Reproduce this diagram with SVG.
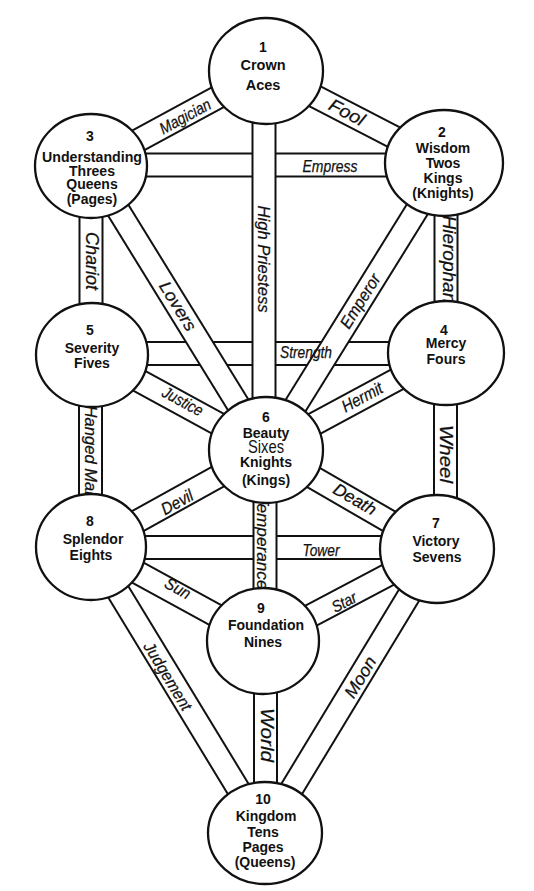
<svg xmlns="http://www.w3.org/2000/svg" width="534" height="891" viewBox="0 0 534 891">
<style>
.bo{stroke:#111;stroke-width:25;fill:none}
.bi{stroke:#fff;stroke-width:21;fill:none}
.lbl{font-family:"Liberation Sans",Arial,sans-serif;font-style:italic;fill:#111;stroke:#111;stroke-width:0.25;text-anchor:middle}
.node ellipse{fill:#fff;stroke:#111;stroke-width:2.3}
.node text{font-family:"Liberation Sans",Arial,sans-serif;font-weight:bold;font-size:14px;fill:#111;text-anchor:middle}
.node text.big{font-weight:normal;font-size:19px}
</style>
<rect width="534" height="891" fill="#fff"/>
<g id="connectors">
<g id="p-empress"><line class="bo" x1="91" y1="165" x2="444" y2="165"/><line class="bi" x1="91" y1="165" x2="444" y2="165"/></g>
<g id="p-strength"><line class="bo" x1="92" y1="353.5" x2="446" y2="353.5"/><line class="bi" x1="92" y1="353.5" x2="446" y2="353.5"/></g>
<g id="p-tower"><line class="bo" x1="91" y1="547.5" x2="437" y2="547.5"/><line class="bi" x1="91" y1="547.5" x2="437" y2="547.5"/></g>
<g id="p-fool"><line class="bo" x1="266" y1="71" x2="444" y2="163"/><line class="bi" x1="266" y1="71" x2="444" y2="163"/></g>
<g id="p-magician"><line class="bo" x1="266" y1="71" x2="91" y2="166"/><line class="bi" x1="266" y1="71" x2="91" y2="166"/></g>
<g id="p-highpriestess"><line class="bo" x1="264" y1="71" x2="264" y2="450"/><line class="bi" x1="264" y1="71" x2="264" y2="450"/></g>
<g id="p-hierophant"><line class="bo" x1="446" y1="163" x2="446" y2="353"/><line class="bi" x1="446" y1="163" x2="446" y2="353"/></g>
<g id="p-emperor"><line class="bo" x1="446" y1="163" x2="268" y2="450"/><line class="bi" x1="446" y1="163" x2="268" y2="450"/></g>
<g id="p-lovers"><line class="bo" x1="91" y1="166" x2="266" y2="450"/><line class="bi" x1="91" y1="166" x2="266" y2="450"/></g>
<g id="p-chariot"><line class="bo" x1="91" y1="166" x2="91" y2="355"/><line class="bi" x1="91" y1="166" x2="91" y2="355"/></g>
<g id="p-hermit"><line class="bo" x1="446" y1="353" x2="266" y2="450"/><line class="bi" x1="446" y1="353" x2="266" y2="450"/></g>
<g id="p-justice"><line class="bo" x1="92" y1="355" x2="266" y2="450"/><line class="bi" x1="92" y1="355" x2="266" y2="450"/></g>
<g id="p-wheel"><line class="bo" x1="445.5" y1="353" x2="445.5" y2="549"/><line class="bi" x1="445.5" y1="353" x2="445.5" y2="549"/></g>
<g id="p-hangedman"><line class="bo" x1="90.5" y1="355" x2="90.5" y2="547"/><line class="bi" x1="90.5" y1="355" x2="90.5" y2="547"/></g>
<g id="p-death"><line class="bo" x1="266" y1="450" x2="437" y2="549"/><line class="bi" x1="266" y1="450" x2="437" y2="549"/></g>
<g id="p-devil"><line class="bo" x1="266" y1="450" x2="91" y2="547"/><line class="bi" x1="266" y1="450" x2="91" y2="547"/></g>
<g id="p-temperance"><line class="bo" x1="265" y1="450" x2="265" y2="641"/><line class="bi" x1="265" y1="450" x2="265" y2="641"/></g>
<g id="p-sun"><line class="bo" x1="91" y1="547" x2="263" y2="641"/><line class="bi" x1="91" y1="547" x2="263" y2="641"/></g>
<g id="p-star"><line class="bo" x1="437" y1="549" x2="263" y2="641"/><line class="bi" x1="437" y1="549" x2="263" y2="641"/></g>
<g id="p-judgement"><line class="bo" x1="91" y1="547" x2="265" y2="833"/><line class="bi" x1="91" y1="547" x2="265" y2="833"/></g>
<g id="p-moon"><line class="bo" x1="437" y1="549" x2="265" y2="833"/><line class="bi" x1="437" y1="549" x2="265" y2="833"/></g>
<g id="p-world"><line class="bo" x1="265.5" y1="641" x2="265.5" y2="833"/><line class="bi" x1="265.5" y1="641" x2="265.5" y2="833"/></g>
</g>
<g id="labels">
<text class="lbl" transform="translate(185,116) rotate(-28.5)" y="6" font-size="16.5" textLength="56" lengthAdjust="spacingAndGlyphs">Magician</text>
<text class="lbl" transform="translate(347,112) rotate(27.3)" y="6.5" font-size="18" textLength="38" lengthAdjust="spacingAndGlyphs">Fool</text>
<text class="lbl" transform="translate(330,166)" y="6" font-size="17" textLength="55" lengthAdjust="spacingAndGlyphs">Empress</text>
<text class="lbl" transform="translate(264,259) rotate(90)" y="6" font-size="17" textLength="107" lengthAdjust="spacingAndGlyphs">High Priestess</text>
<text class="lbl" transform="translate(92,261) rotate(90)" y="6.5" font-size="18" textLength="58" lengthAdjust="spacingAndGlyphs">Chariot</text>
<text class="lbl" transform="translate(178,306) rotate(58.4)" y="6" font-size="17" textLength="55" lengthAdjust="spacingAndGlyphs">Lovers</text>
<text class="lbl" transform="translate(360,301) rotate(-58.2)" y="6" font-size="17" textLength="61" lengthAdjust="spacingAndGlyphs">Emperor</text>
<text class="lbl" transform="translate(449,262) rotate(90)" y="6.5" font-size="18" textLength="93" lengthAdjust="spacingAndGlyphs">Hierophant</text>
<text class="lbl" transform="translate(306,352)" y="5.7" font-size="16" textLength="52" lengthAdjust="spacingAndGlyphs">Strength</text>
<text class="lbl" transform="translate(362,397) rotate(-28.3)" y="6" font-size="17" textLength="44" lengthAdjust="spacingAndGlyphs">Hermit</text>
<text class="lbl" transform="translate(183,401) rotate(28.6)" y="6" font-size="16.5" textLength="44" lengthAdjust="spacingAndGlyphs">Justice</text>
<text class="lbl" transform="translate(447,454) rotate(90)" y="6.8" font-size="19" textLength="58" lengthAdjust="spacingAndGlyphs">Wheel</text>
<text class="lbl" transform="translate(91,453) rotate(90)" y="6" font-size="17" textLength="95" lengthAdjust="spacingAndGlyphs">Hanged Man</text>
<text class="lbl" transform="translate(355,499) rotate(30.1)" y="6" font-size="17" textLength="47" lengthAdjust="spacingAndGlyphs">Death</text>
<text class="lbl" transform="translate(177,502) rotate(-29)" y="6" font-size="17" textLength="34" lengthAdjust="spacingAndGlyphs">Devil</text>
<text class="lbl" transform="translate(263,542) rotate(90)" y="6" font-size="17" textLength="95" lengthAdjust="spacingAndGlyphs">Temperance</text>
<text class="lbl" transform="translate(321,550)" y="6" font-size="16.5" textLength="37" lengthAdjust="spacingAndGlyphs">Tower</text>
<text class="lbl" transform="translate(178,588) rotate(28.7)" y="6" font-size="16.5" textLength="27" lengthAdjust="spacingAndGlyphs">Sun</text>
<text class="lbl" transform="translate(344,602) rotate(-27.9)" y="5.7" font-size="16" textLength="26" lengthAdjust="spacingAndGlyphs">Star</text>
<text class="lbl" transform="translate(168,676) rotate(58.7)" y="6" font-size="16.5" textLength="77" lengthAdjust="spacingAndGlyphs">Judgement</text>
<text class="lbl" transform="translate(360,677) rotate(-58.8)" y="6.3" font-size="17.5" textLength="45" lengthAdjust="spacingAndGlyphs">Moon</text>
<text class="lbl" transform="translate(268,735) rotate(90)" y="6.8" font-size="19" textLength="54" lengthAdjust="spacingAndGlyphs">World</text>
</g>
<g id="n1" class="node"><ellipse cx="266" cy="71" rx="57" ry="53"/><text x="263" y="52" font-size="14.5">1</text><text x="263" y="70" style="font-size:14.5px">Crown</text><text x="263" y="90" style="font-size:14.5px">Aces</text></g>
<g id="n2" class="node"><ellipse cx="444" cy="163" rx="59" ry="53"/><text x="442" y="137">2</text><text x="443" y="153">Wisdom</text><text x="443" y="168">Twos</text><text x="443" y="183">Kings</text><text x="443" y="198">(Knights)</text></g>
<g id="n3" class="node"><ellipse cx="91" cy="166" rx="56" ry="52"/><text x="90" y="141">3</text><text x="92" y="162" textLength="100" lengthAdjust="spacingAndGlyphs">Understanding</text><text x="92" y="176">Threes</text><text x="92" y="189">Queens</text><text x="92" y="204">(Pages)</text></g>
<g id="n4" class="node"><ellipse cx="446" cy="353" rx="58" ry="52"/><text x="444" y="335">4</text><text x="446" y="348">Mercy</text><text x="446" y="364">Fours</text></g>
<g id="n5" class="node"><ellipse cx="92" cy="355" rx="56" ry="52"/><text x="90" y="335">5</text><text x="92" y="353">Severity</text><text x="92" y="368">Fives</text></g>
<g id="n6" class="node"><ellipse cx="266" cy="450" rx="57" ry="53"/><text x="266" y="422">6</text><text x="266" y="438">Beauty</text><text class="big" x="266" y="453" textLength="36" lengthAdjust="spacingAndGlyphs">Sixes</text><text x="266" y="467">Knights</text><text x="266" y="485">(Kings)</text></g>
<g id="n7" class="node"><ellipse cx="437" cy="549" rx="57" ry="54"/><text x="436" y="528">7</text><text x="436" y="546">Victory</text><text x="437" y="562">Sevens</text></g>
<g id="n8" class="node"><ellipse cx="91" cy="547" rx="55" ry="53"/><text x="90" y="526">8</text><text x="93" y="544">Splendor</text><text x="91" y="560">Eights</text></g>
<g id="n9" class="node"><ellipse cx="263" cy="641" rx="56" ry="53"/><text x="261" y="613">9</text><text x="266" y="630">Foundation</text><text x="263" y="647">Nines</text></g>
<g id="n10" class="node"><ellipse cx="265" cy="833" rx="57" ry="51"/><text x="263" y="804">10</text><text x="266" y="821">Kingdom</text><text x="263" y="837">Tens</text><text x="263" y="852">Pages</text><text x="265" y="867">(Queens)</text></g>
</svg>
